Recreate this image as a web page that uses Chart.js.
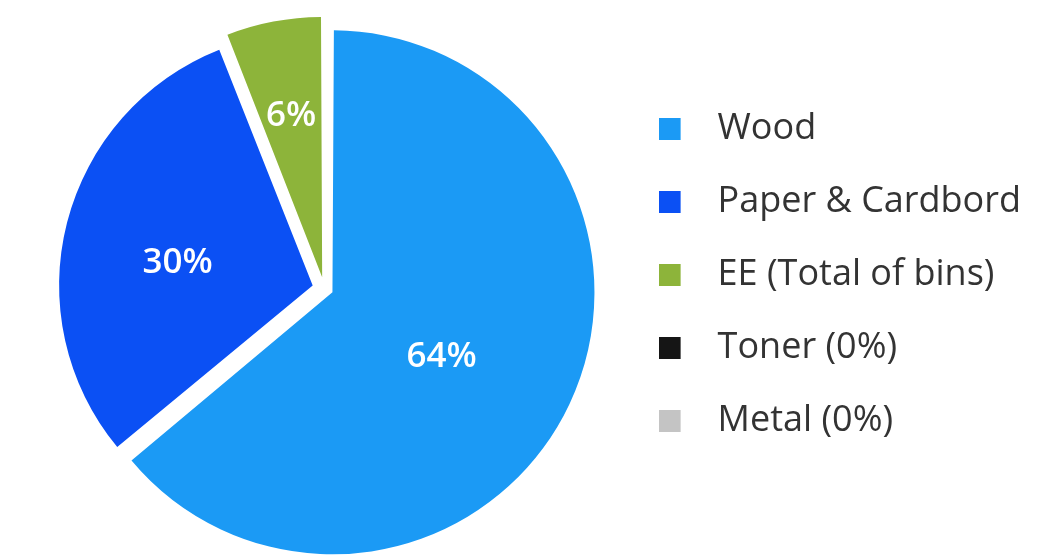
<!DOCTYPE html>
<html>
<head>
<meta charset="utf-8">
<script src="https://cdn.jsdelivr.net/npm/chart.js@4"></script>
<style>
  html, body { margin: 0; padding: 0; background: #fff; }
  #wrap { width: 1062px; height: 557px; }
</style>
</head>
<body>
<div id="wrap"><canvas id="pie"></canvas></div>
<script>
var labels = ['Wood', 'Paper & Cardbord', 'EE (Total of bins)', 'Toner (0%)', 'Metal (0%)'];
var shares = [64, 30, 6, 0, 0];

var colors = ['#1b9af5', '#0b50f4', '#8db43a', '#151515', '#c4c4c4'];

// legend swatch: square on the left of a wider transparent box, so the text sits further out
function swatch(color) {
    var c = document.createElement('canvas');
    c.width = 41; c.height = 22;
    var g = c.getContext('2d');
    g.fillStyle = color;
    g.fillRect(0, 0, 22, 22);
    return c;
}

// white percentage text inside each slice
var sliceLabels = {
    id: 'sliceLabels',
    afterDatasetsDraw: function(chart, args, opts) {
        var ctx = chart.ctx;
        var meta = chart.getDatasetMeta(0);
        var data = chart.data.datasets[0].data;
        ctx.save();
        ctx.font = '600 35px "Open Sans"';
        ctx.fillStyle = '#fff';
        ctx.textAlign = 'center';
        ctx.textBaseline = 'alphabetic';
        meta.data.forEach(function(arc, i) {
            if (!data[i]) return;
            var p = arc.getProps(['x', 'y', 'startAngle', 'endAngle', 'outerRadius']);
            var mid = (p.startAngle + p.endAngle) / 2;
            var shift = (arc.options.offset || 0) / 4;
            var cx = p.x + Math.cos(mid) * shift, cy = p.y + Math.sin(mid) * shift;
            var a = mid + opts.turn[i] * Math.PI / 180;
            var r = opts.radius[i] * p.outerRadius;
            ctx.fillText(data[i] + '%', cx + Math.cos(a) * r, cy + Math.sin(a) * r + 12.5);
        });
        ctx.restore();
    }
};

new Chart(document.getElementById('pie'), {
    type: 'pie',
    data: {
        labels: labels,
        datasets: [{
            data: shares,
            backgroundColor: colors,
            borderWidth: 0,
            offset: [36, 48, 46, 0, 0],
            radius: 253,
            clip: false
        }]
    },
    options: {
        responsive: true,
        maintainAspectRatio: false,
        animation: false,
        layout: { padding: { top: 74, bottom: 54, left: 27, right: 31 } },
        plugins: {
            tooltip: { enabled: false },
            legend: {
                position: 'right',
                align: 'start',
                labels: {
                    usePointStyle: true,
                    pointStyleWidth: 41,
                    boxHeight: 22,
                    padding: 37,
                    color: '#333',
                    font: { family: 'Open Sans', size: 36 },
                    generateLabels: function(chart) {
                        return labels.map(function(text, i) {
                            return { text: text, fillStyle: colors[i], strokeStyle: colors[i], lineWidth: 0,
                                     pointStyle: swatch(colors[i]), fontColor: '#333', hidden: false, index: i };
                        });
                    }
                }
            },
            sliceLabels: { radius: [0.496, 0.543, 0.657, 0.5, 0.5], turn: [4.4, -3.7, 0, 0, 0] }
        }
    },
    plugins: [sliceLabels]
});
</script>
</body>
</html>
